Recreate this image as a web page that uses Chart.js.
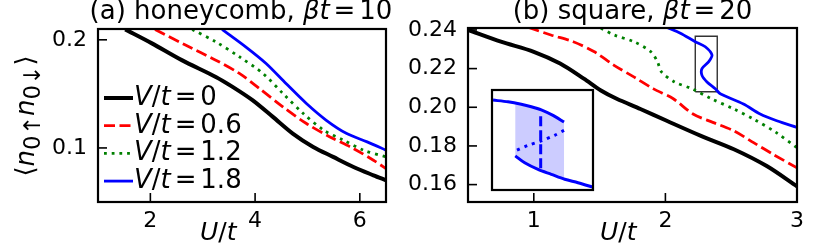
<!DOCTYPE html>
<html><head><meta charset="utf-8">
<script src="https://cdn.jsdelivr.net/npm/chart.js@4/dist/chart.umd.min.js"></script>
<style>
html,body{margin:0;padding:0;background:#fff;}
#wrap{position:relative;width:822px;height:249px;background:#fff;overflow:hidden;}
canvas{position:absolute;left:0;top:0;}
</style></head>
<body><div id="wrap">
<canvas id="ca" width="822" height="249"></canvas>
<canvas id="cb" width="822" height="249"></canvas>
<canvas id="ci" width="822" height="249"></canvas>
</div>
<script>
// ---------- data ----------
const V_LABELS = ['0', '0.6', '1.2', '1.8'];
const COLORS = ['#000000', '#ff0000', '#008000', '#0000ff'];

// (a) honeycomb, beta t = 10
const A_X_TICKS = [2, 4, 6];
const A_Y_TICKS = [0.1, 0.2];
const HC_U_V00 = [1.52, 2.03, 2.60, 3.25, 3.57, 3.95, 4.34, 4.72, 5.11, 5.49, 5.88, 6.26, 6.50];
const HC_N_V00 = [0.2096, 0.1967, 0.1812, 0.1657, 0.1565, 0.1442, 0.1287, 0.1133, 0.1009, 0.0917, 0.0824, 0.0747, 0.0701];
const HC_U_V06 = [2.09, 2.67, 3.25, 3.70, 4.08, 4.53, 4.98, 5.43, 5.88, 6.26, 6.50];
const HC_N_V06 = [0.2096, 0.1951, 0.1812, 0.1689, 0.1550, 0.1380, 0.1226, 0.1102, 0.0994, 0.0886, 0.0809];
const HC_U_V12 = [2.80, 3.25, 3.70, 4.15, 4.53, 4.92, 5.31, 5.69, 6.07, 6.50];
const HC_N_V12 = [0.2096, 0.1981, 0.1843, 0.1689, 0.1504, 0.1319, 0.1164, 0.1071, 0.0979, 0.0917];
const HC_U_V18 = [3.37, 3.82, 4.21, 4.59, 4.98, 5.36, 5.75, 6.14, 6.50];
const HC_N_V18 = [0.2096, 0.1935, 0.1781, 0.1596, 0.1411, 0.1256, 0.1133, 0.1056, 0.0979];

// (b) square, beta t = 20
const B_X_TICKS = [1, 2, 3];
const B_Y_TICKS = [0.16, 0.18, 0.20, 0.22, 0.24];
const SQ_U_V00 = [0.50, 0.75, 1.00, 1.20, 1.38, 1.51, 1.63, 1.81, 2.01, 2.27, 2.52, 2.77, 3.00];
const SQ_N_V00 = [0.2400, 0.2339, 0.2287, 0.2226, 0.2148, 0.2087, 0.2044, 0.1991, 0.1930, 0.1852, 0.1783, 0.1696, 0.1591];
const SQ_U_V06 = [0.96, 1.13, 1.30, 1.46, 1.61, 1.76, 1.91, 2.06, 2.21, 2.36, 2.52, 2.67, 2.82, 3.00];
const SQ_N_V06 = [0.2413, 0.2374, 0.2339, 0.2287, 0.2217, 0.2157, 0.2095, 0.2044, 0.1965, 0.1922, 0.1878, 0.1817, 0.1756, 0.1687];
const SQ_U_V12 = [1.51, 1.61, 1.76, 1.89, 1.94, 1.97, 2.07, 2.20, 2.35, 2.52, 2.67, 2.84, 3.00];
const SQ_N_V12 = [0.2409, 0.2374, 0.2339, 0.2287, 0.2235, 0.2183, 0.2131, 0.2096, 0.2044, 0.1991, 0.1939, 0.1870, 0.1791];
const SQ_U_V18 = [2.013, 2.114, 2.227, 2.303, 2.354, 2.328, 2.278, 2.278, 2.316, 2.379, 2.417, 2.593, 2.720, 2.846, 3.000];
const SQ_N_V18 = [0.2413, 0.2383, 0.2339, 0.2313, 0.2270, 0.2235, 0.2200, 0.2165, 0.2131, 0.2096, 0.2070, 0.2017, 0.1965, 0.1930, 0.1896];

// zoom box on the V/t = 1.8 curve (shown magnified in the inset)
const BOX_U = [2.227, 2.394];
const BOX_N = [0.208, 0.2367];

// inset: branches of the V/t = 1.8 curve
const IN_UP_U = [2.2287, 2.2535, 2.2754, 2.2920, 2.3085, 2.3279, 2.3461];
const IN_UP_N = [0.2338, 0.2333, 0.2326, 0.2319, 0.2310, 0.2294, 0.2275];
const IN_MID_U = [2.3461, 2.3307, 2.3085, 2.2865, 2.2655];
const IN_MID_N = [0.2251, 0.2237, 0.2221, 0.2208, 0.2192];
const IN_LO_U = [2.2655, 2.2811, 2.3031, 2.3251, 2.3472, 2.3692, 2.3957];
const IN_LO_N = [0.2178, 0.2158, 0.2139, 0.2125, 0.2111, 0.2101, 0.2087];
const IN_JUMP_U = [2.3075, 2.3075];
const IN_JUMP_N = [0.2292, 0.2139];

// ---------- helpers ----------
const pts = (us, ns) => us.map((u, i) => ({x: u, y: ns[i]}));
function interp(us, ns, u) {
  for (let i = 0; i < us.length - 1; i++) {
    const a = us[i], b = us[i + 1];
    if ((u - a) * (u - b) <= 0) { const t = (u - a) / (b - a || 1); return ns[i] + t * (ns[i + 1] - ns[i]); }
  }
  return ns[ns.length - 1];
}
const FONT = '"DejaVu Sans"';

function richDraw(ctx, it) {
  const F = it.size;
  const fontOf = s => (s.i ? 'italic ' : '') + Math.round(s.sub ? F * (s.sc || 0.7) : F) + 'px ' + FONT;
  let w = 0;
  it.segs.forEach(s => {
    ctx.font = fontOf(s);
    s.w = ctx.measureText(s.t).width + (s.gap || 0) * F * 2;
    w += s.w;
  });
  ctx.save();
  ctx.translate(it.x, it.y);
  if (it.rot) ctx.rotate(it.rot);
  ctx.textAlign = 'left'; ctx.textBaseline = 'alphabetic'; ctx.fillStyle = '#000';
  let cx = it.align === 'left' ? 0 : -w / 2;
  it.segs.forEach(s => {
    ctx.font = fontOf(s);
    ctx.fillText(s.t, cx + (s.gap || 0) * F, s.sub ? F * 0.22 : 0);
    cx += s.w;
  });
  ctx.restore();
}

const deco = {
  id: 'deco',
  beforeDatasetsDraw(chart, args, o) {
    if (o.bg) { const a = chart.chartArea; const c = chart.ctx; c.save(); c.fillStyle = '#fff'; c.fillRect(a.left, a.top, a.width, a.height); c.restore(); }
  },
  afterDraw(chart, args, o) {
    const c = chart.ctx, a = chart.chartArea;
    c.save();
    if (o.ticks) {
      c.strokeStyle = '#000'; c.lineWidth = 1.6;
      const xs = chart.scales.x, ys = chart.scales.y;
      xs.ticks.forEach(t => { const p = xs.getPixelForValue(t.value); c.beginPath(); c.moveTo(p, a.bottom); c.lineTo(p, a.bottom - 9); c.stroke(); });
      ys.ticks.forEach(t => { const p = ys.getPixelForValue(t.value); c.beginPath(); c.moveTo(a.left, p); c.lineTo(a.left + 9, p); c.stroke(); });
    }
    c.strokeStyle = '#000'; c.lineWidth = o.frame || 2.2;
    c.strokeRect(a.left, a.top, a.width, a.height);
    if (o.legend) {
      const L = o.legend;
      L.items.forEach((item, i) => {
        const y = L.y + i * L.pitch;
        c.save();
        c.strokeStyle = item.color; c.lineWidth = item.width; c.setLineDash(item.dash || []);
        c.beginPath(); c.moveTo(L.x, y); c.lineTo(L.x + L.len, y); c.stroke();
        c.restore();
        richDraw(c, {segs: item.segs, x: L.x + L.len + 1, y: y + L.base, size: L.size, align: 'left'});
      });
    }
    (o.texts || []).forEach(t => richDraw(c, t));
    c.restore();
  }
};

function lineDs(us, ns, color, width, dash) {
  return {data: pts(us, ns), showLine: true, borderColor: color, borderWidth: width, borderDash: dash || [],
          pointRadius: 0, tension: 0.3, fill: false, borderCapStyle: 'butt'};
}

function axes(xmin, xmax, xt, ymin, ymax, yt, ydec) {
  const tickFont = {family: 'DejaVu Sans', size: 22};
  return {
    x: {type: 'linear', min: xmin, max: xmax, grid: {display: false, drawTicks: false}, border: {display: false},
        afterBuildTicks: s => { s.ticks = xt.map(v => ({value: v})); },
        afterFit: s => { s.height = 40; },
        ticks: {font: tickFont, color: '#000', padding: 6, autoSkip: false, maxRotation: 0, callback: v => String(v)}},
    y: {type: 'linear', min: ymin, max: ymax, grid: {display: false, drawTicks: false}, border: {display: false},
        afterBuildTicks: s => { s.ticks = yt.map(v => ({value: v})); },
        afterFit: s => { s.width = 66; },
        ticks: {font: tickFont, color: '#000', padding: 11, autoSkip: false, callback: v => v.toFixed(ydec)}}
  };
}

const common = {responsive: false, animation: false, events: [],
  plugins: {legend: {display: false}, tooltip: {enabled: false}, title: {display: false}}};

const legendItems = V_LABELS.map((v, i) => ({
  color: COLORS[i], width: [4, 2.8, 2.8, 2.8][i], dash: [[], [11, 4.5], [2.8, 4.9], []][i],
  segs: [{t: 'V', i: true}, {t: '/'}, {t: 't', i: true}, {t: '=', gap: 0.15}, {t: v}]
}));

const ylabelSegs = [{t: '\u27E8'}, {t: 'n', i: true}, {t: '0\u2191', sub: true, sc: 0.9}, {t: 'n', i: true}, {t: '0\u2193', sub: true, sc: 0.9}, {t: '\u27E9'}];

// ---------- chart (a) ----------
new Chart(document.getElementById('ca'), {
  type: 'scatter',
  data: {datasets: [
    lineDs(HC_U_V00, HC_N_V00, COLORS[0], 4),
    lineDs(HC_U_V06, HC_N_V06, COLORS[1], 2.8, [11, 4.5]),
    lineDs(HC_U_V12, HC_N_V12, COLORS[2], 2.8, [2.8, 4.9]),
    lineDs(HC_U_V18, HC_N_V18, COLORS[3], 2.8)
  ]},
  options: Object.assign({}, common, {
    layout: {padding: {left: 32, top: 29, right: 436, bottom: 7}},
    scales: axes(1, 6.5, A_X_TICKS, 0.05, 0.21, A_Y_TICKS, 1),
    plugins: Object.assign({}, common.plugins, {deco: {
      ticks: true,
      legend: {x: 104, y: 98, pitch: 27.7, len: 29, base: 7, size: 26, items: legendItems},
      texts: [
        {segs: [{t: '(a) honeycomb, '}, {t: '\u03B2', i: true}, {t: 't', i: true}, {t: '=', gap: 0.15}, {t: '10'}], x: 241, y: 18.5, size: 26},
        {segs: [{t: 'U', i: true}, {t: '/'}, {t: 't', i: true}], x: 218.3, y: 240, size: 25},
        {segs: ylabelSegs, x: 34, y: 116, size: 26, rot: -Math.PI / 2}
      ]
    }})
  }),
  plugins: [deco]
});

// ---------- chart (b) ----------
new Chart(document.getElementById('cb'), {
  type: 'scatter',
  data: {datasets: [
    lineDs(SQ_U_V00, SQ_N_V00, COLORS[0], 4),
    lineDs(SQ_U_V06, SQ_N_V06, COLORS[1], 2.8, [11, 4.5]),
    lineDs(SQ_U_V12, SQ_N_V12, COLORS[2], 2.8, [2.8, 4.9]),
    lineDs(SQ_U_V18, SQ_N_V18, COLORS[3], 2.8),
    Object.assign(lineDs([BOX_U[0], BOX_U[1], BOX_U[1], BOX_U[0], BOX_U[0]], [BOX_N[0], BOX_N[0], BOX_N[1], BOX_N[1], BOX_N[0]], '#333333', 1.4), {tension: 0})
  ]},
  options: Object.assign({}, common, {
    layout: {padding: {left: 402, top: 28, right: 25, bottom: 7}},
    scales: axes(0.5, 3, B_X_TICKS, 0.151, 0.241, B_Y_TICKS, 2),
    plugins: Object.assign({}, common.plugins, {deco: {
      ticks: true,
      texts: [
        {segs: [{t: '(b) square, '}, {t: '\u03B2', i: true}, {t: 't', i: true}, {t: '=', gap: 0.15}, {t: '20'}], x: 632.5, y: 18.5, size: 26},
        {segs: [{t: 'U', i: true}, {t: '/'}, {t: 't', i: true}], x: 618.3, y: 240, size: 25}
      ]
    }})
  }),
  plugins: [deco]
});

// ---------- inset ----------
const shadeL = IN_MID_U[IN_MID_U.length - 1], shadeR = IN_MID_U[0];
const shadeTop = [{x: shadeL, y: interp(IN_UP_U, IN_UP_N, shadeL)}]
  .concat(pts(IN_UP_U, IN_UP_N).filter(p => p.x > shadeL && p.x <= shadeR));
const shadeBot = [{x: shadeR, y: interp(IN_LO_U, IN_LO_N, shadeR)}]
  .concat(pts(IN_LO_U, IN_LO_N).filter(p => p.x >= shadeL && p.x < shadeR).reverse());
new Chart(document.getElementById('ci'), {
  type: 'scatter',
  data: {datasets: [
    {data: shadeTop.concat(shadeBot), showLine: true, borderWidth: 0, borderColor: 'rgba(0,0,0,0)', pointRadius: 0,
     fill: 'shape', backgroundColor: 'rgba(0,0,255,0.2)', tension: 0},
    lineDs(IN_UP_U, IN_UP_N, COLORS[3], 3),
    lineDs(IN_MID_U, IN_MID_N, COLORS[3], 3, [3, 5]),
    lineDs(IN_LO_U, IN_LO_N, COLORS[3], 3),
    Object.assign(lineDs(IN_JUMP_U, IN_JUMP_N, COLORS[3], 3, [10, 4]), {tension: 0})
  ]},
  options: Object.assign({}, common, {
    layout: {padding: {left: 492, top: 90, right: 229, bottom: 59}},
    scales: {x: {type: 'linear', display: false, min: BOX_U[0], max: BOX_U[1]},
             y: {type: 'linear', display: false, min: BOX_N[0], max: BOX_N[1]}},
    plugins: Object.assign({}, common.plugins, {deco: {bg: true, frame: 2.2}})
  }),
  plugins: [deco]
});
</script>
</body></html>
